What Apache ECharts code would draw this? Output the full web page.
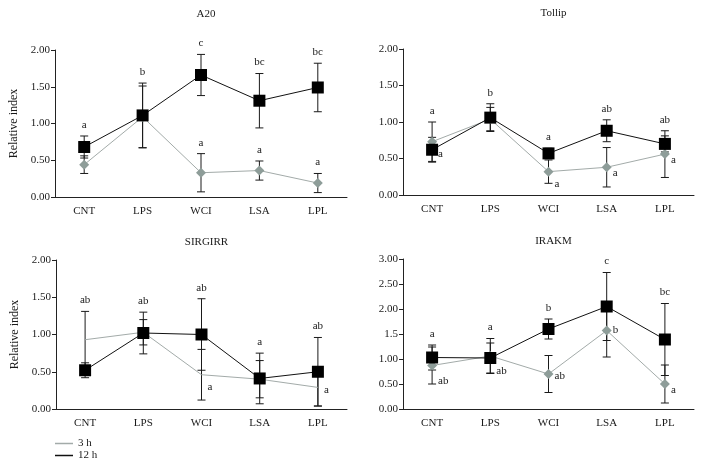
<!DOCTYPE html>
<html>
<head>
<meta charset="utf-8">
<script src="https://cdn.jsdelivr.net/npm/echarts@6/dist/echarts.min.js"></script>
<style>html,body{margin:0;padding:0;background:#fff}#c{width:702px;height:466px}</style>
</head>
<body>
<div id="c"></div>
<script>
const categories = ['CNT', 'LPS', 'WCI', 'LSA', 'LPL'];
const seriesNames = ['3 h', '12 h'];
const titles = ['A20', 'Tollip', 'SIRGIRR', 'IRAKM'];
const yTicks2 = ['0.00', '0.50', '1.00', '1.50', '2.00'];
const yTicks3 = ['0.00', '0.50', '1.00', '1.5', '2.00', '2.50', '3.00'];

// A20
const a20_3h = [0.44, 1.09, 0.33, 0.36, 0.19];
const a20_3h_err = [0.12, 0.42, 0.26, 0.13, 0.13];
const a20_12h = [0.68, 1.11, 1.66, 1.31, 1.49];
const a20_12h_err = [0.15, 0.44, 0.28, 0.37, 0.33];
const a20_letters_top = ['a', 'b', 'c', 'bc', 'bc'];
const a20_letters_3h = ['', '', 'a', 'a', 'a'];
const a20_letters_side = ['', '', '', '', ''];
const a20_side_at = [0, 0, 0, 0, 0];

// Tollip
const tol_3h = [0.73, 1.04, 0.32, 0.38, 0.56];
const tol_3h_err = [0.27, 0.16, 0.16, 0.27, 0.32];
const tol_12h = [0.62, 1.06, 0.57, 0.88, 0.70];
const tol_12h_err = [0.17, 0.19, 0.07, 0.15, 0.11];
const tol_letters_top = ['a', 'b', 'a', 'ab', 'ab'];
const tol_letters_3h = ['', '', '', '', ''];
const tol_letters_side = ['a', '', 'a', 'a', 'a'];
const tol_side_at = [0.56, 0, 0.145, 0.30, 0.48];

// SIRGIRR
const sir_3h = [0.93, 1.03, 0.46, 0.40, 0.29];
const sir_3h_err = [0.38, 0.17, 0.34, 0.25, 0.25];
const sir_12h = [0.52, 1.02, 1.00, 0.41, 0.50];
const sir_12h_err = [0.10, 0.28, 0.48, 0.34, 0.46];
const sir_letters_top = ['ab', 'ab', 'ab', 'a', 'ab'];
const sir_letters_3h = ['', '', '', '', ''];
const sir_letters_side = ['', '', 'a', '', 'a'];
const sir_side_at = [0, 0, 0.30, 0, 0.26];

// IRAKM
const ira_3h = [0.87, 1.06, 0.70, 1.57, 0.50];
const ira_3h_err = [0.37, 0.35, 0.37, 0.53, 0.38];
const ira_12h = [1.03, 1.02, 1.60, 2.05, 1.39];
const ira_12h_err = [0.25, 0.30, 0.20, 0.68, 0.72];
const ira_letters_top = ['a', 'a', 'b', 'c', 'bc'];
const ira_letters_3h = ['', '', '', '', ''];
const ira_letters_side = ['ab', 'ab', 'ab', 'b', 'a'];
const ira_side_at = [0.56, 0.75, 0.66, 1.58, 0.38];

const panels = [
  {v3: a20_3h, e3: a20_3h_err, v12: a20_12h, e12: a20_12h_err, top: a20_letters_top, top3: a20_letters_3h, side: a20_letters_side, sideAt: a20_side_at, max: 2, ticks: yTicks2, marker3: true, grid: {left: 55, top: 50, width: 292, height: 147}, yName: 'Relative index'},
  {v3: tol_3h, e3: tol_3h_err, v12: tol_12h, e12: tol_12h_err, top: tol_letters_top, top3: tol_letters_3h, side: tol_letters_side, sideAt: tol_side_at, max: 2, ticks: yTicks2, marker3: true, grid: {left: 403, top: 49, width: 291, height: 146}, yName: ''},
  {v3: sir_3h, e3: sir_3h_err, v12: sir_12h, e12: sir_12h_err, top: sir_letters_top, top3: sir_letters_3h, side: sir_letters_side, sideAt: sir_side_at, max: 2, ticks: yTicks2, marker3: false, grid: {left: 56, top: 260, width: 291, height: 149}, yName: 'Relative index'},
  {v3: ira_3h, e3: ira_3h_err, v12: ira_12h, e12: ira_12h_err, top: ira_letters_top, top3: ira_letters_3h, side: ira_letters_side, sideAt: ira_side_at, max: 3, ticks: yTicks3, marker3: true, grid: {left: 403, top: 259, width: 291, height: 150}, yName: ''}
];

const FONT = 'Liberation Serif';
const TXT = '#1a1a1a';
const GRAY_LINE = '#a3aba9';
const GRAY_MARK = '#8e9d99';

const grids = [], xAxes = [], yAxes = [], series = [], titleComps = [];

panels.forEach((p, k) => {
  grids.push(p.grid);
  const cx = p.grid.left + p.grid.width / 2;
  titleComps.push({
    text: titles[k], left: cx, top: p.grid.top - (k < 2 ? 46 : 28), textAlign: 'center',
    textStyle: {fontFamily: FONT, fontSize: 11, fontWeight: 'normal', color: TXT}
  });
  xAxes.push({
    type: 'category', gridIndex: k, data: categories, boundaryGap: true,
    axisLine: {lineStyle: {color: '#222', width: 1}},
    axisTick: {inside: true, length: 4, lineStyle: {color: '#222'}},
    axisLabel: {fontFamily: FONT, fontSize: 11, color: TXT, margin: 9}
  });
  yAxes.push({
    type: 'value', gridIndex: k, min: 0, max: p.max, interval: 0.5,
    name: p.yName, nameLocation: 'middle', nameGap: 35,
    nameTextStyle: {fontFamily: FONT, fontSize: 12, color: TXT},
    splitLine: {show: false},
    axisLine: {show: true, lineStyle: {color: '#222', width: 1}},
    axisTick: {show: true, length: 4, lineStyle: {color: '#222'}},
    axisLabel: {fontFamily: FONT, fontSize: 11, color: TXT, margin: 5,
      formatter: (v) => p.ticks[Math.round(v / 0.5)]}
  });

  // error bars
  const errData = [];
  p.v3.forEach((v, i) => errData.push([i, v - p.e3[i], v + p.e3[i]]));
  p.v12.forEach((v, i) => errData.push([i, v - p.e12[i], v + p.e12[i]]));
  series.push({
    type: 'custom', xAxisIndex: k, yAxisIndex: k, z: 1, silent: true,
    data: errData,
    renderItem: (params, api) => {
      const i = api.value(0);
      const lo = api.coord([i, api.value(1)]);
      const hi = api.coord([i, api.value(2)]);
      const w = 4;
      const st = {stroke: '#1a1a1a', lineWidth: 1};
      return {type: 'group', children: [
        {type: 'line', shape: {x1: lo[0], y1: lo[1], x2: hi[0], y2: hi[1]}, style: st},
        {type: 'line', shape: {x1: lo[0] - w, y1: lo[1], x2: lo[0] + w, y2: lo[1]}, style: st},
        {type: 'line', shape: {x1: hi[0] - w, y1: hi[1], x2: hi[0] + w, y2: hi[1]}, style: st}
      ]};
    }
  });

  series.push({
    name: seriesNames[0], type: 'line', xAxisIndex: k, yAxisIndex: k, z: 2,
    data: p.v3, symbol: p.marker3 ? 'diamond' : 'none', symbolSize: 10, showSymbol: p.marker3,
    lineStyle: {color: GRAY_LINE, width: 1}, itemStyle: {color: GRAY_MARK},
    animation: false
  });
  series.push({
    name: seriesNames[1], type: 'line', xAxisIndex: k, yAxisIndex: k, z: 3,
    data: p.v12, symbol: 'rect', symbolSize: 12,
    lineStyle: {color: '#111', width: 1}, itemStyle: {color: '#000'},
    animation: false
  });

  // letters
  const letterData = [];
  const letterInfo = [];
  categories.forEach((c, i) => {
    const top = Math.max(p.v3[i] + p.e3[i], p.v12[i] + p.e12[i]);
    if (p.top[i]) { letterData.push([i, top]); letterInfo.push({t: p.top[i], dx: 0, dy: -11, align: 'center'}); }
    if (p.top3[i]) { letterData.push([i, p.v3[i] + p.e3[i]]); letterInfo.push({t: p.top3[i], dx: 0, dy: -11, align: 'center'}); }
    if (p.side[i]) { letterData.push([i, p.sideAt[i]]); letterInfo.push({t: p.side[i], dx: 6, dy: 0, align: 'left'}); }
  });
  series.push({
    type: 'custom', xAxisIndex: k, yAxisIndex: k, z: 4, silent: true,
    data: letterData,
    renderItem: (params, api) => {
      const info = letterInfo[params.dataIndex];
      const pt = api.coord([api.value(0), api.value(1)]);
      return {type: 'text', x: pt[0] + info.dx, y: pt[1] + info.dy,
        style: {text: info.t, fontFamily: FONT, fontSize: 11, fill: TXT,
          textAlign: info.align, textVerticalAlign: 'middle', align: info.align, verticalAlign: 'middle'}};
    }
  });
});

const chart = echarts.init(document.getElementById('c'), null, {renderer: 'canvas'});
chart.setOption({
  animation: false,
  backgroundColor: '#fff',
  title: titleComps,
  grid: grids,
  xAxis: xAxes,
  yAxis: yAxes,
  legend: {
    orient: 'vertical', left: 55, top: 438, itemWidth: 18, itemHeight: 1.5, itemGap: 1,
    data: [{name: '3 h', icon: 'rect', itemStyle: {color: GRAY_LINE}}, {name: '12 h', icon: 'rect', itemStyle: {color: '#111'}}],
    textStyle: {fontFamily: FONT, fontSize: 11, color: TXT, lineHeight: 11, padding: [0, 0, 0, 0]},
    padding: 0
  },
  series: series
});
</script>
</body>
</html>
